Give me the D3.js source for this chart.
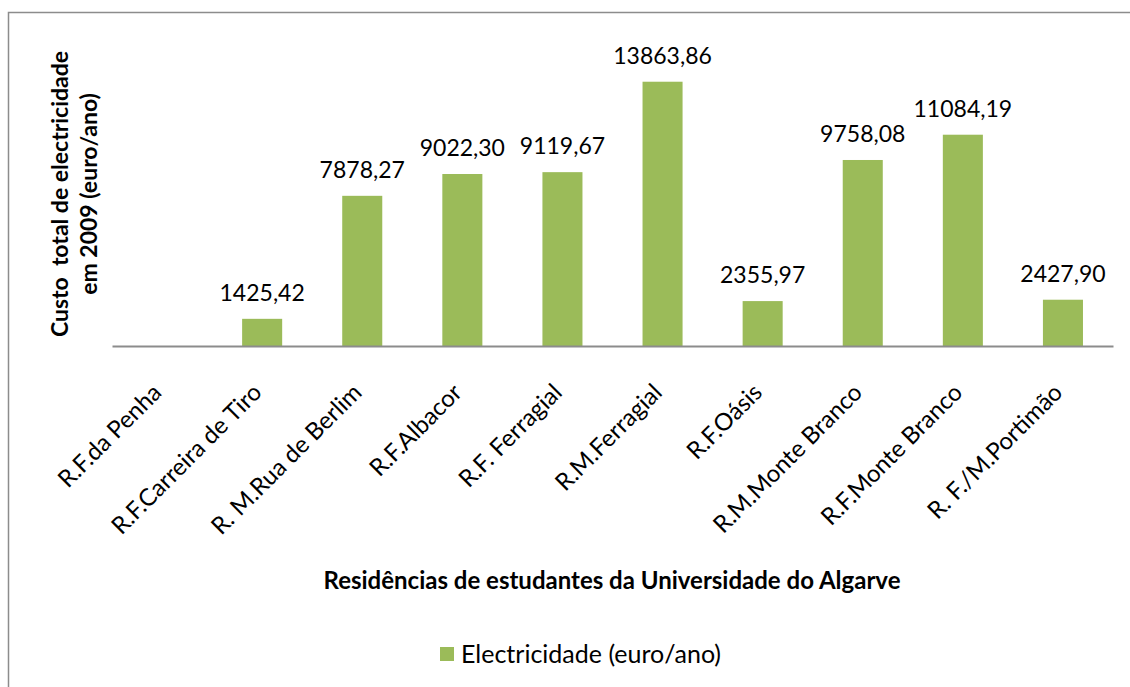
<!DOCTYPE html>
<html>
<head>
<meta charset="utf-8">
<script src="https://cdn.jsdelivr.net/npm/d3@7"></script>
<style>
    body { margin: 0; background: #fff; }
    text { font-family: Lato, "Open Sans", sans-serif; fill: #000; }
</style>
</head>
<body>
<script>

// SVG size
const w = 1130;
const h = 687;

// Chart data
const categories = [
    "R.F.da Penha",
    "R.F.Carreira de Tiro",
    "R. M.Rua de Berlim",
    "R.F.Albacor",
    "R.F. Ferragial",
    "R.M.Ferragial",
    "R.F.Oásis",
    "R.M.Monte Branco",
    "R.F.Monte Branco",
    "R. F./M.Portimão"
];
const values = [0, 1425.42, 7878.27, 9022.30, 9119.67, 13863.86, 2355.97, 9758.08, 11084.19, 2427.90];
const valueLabels = ["", "1425,42", "7878,27", "9022,30", "9119,67", "13863,86", "2355,97", "9758,08", "11084,19", "2427,90"];
const seriesName = "Electricidade (euro/ano)";
const yTitle = ["Custo  total de electricidade", "em 2009 (euro/ano)"];
const xTitle = "Residências de estudantes da Universidade do Algarve";

const data = categories.map((c, i) => ({ name: c, value: values[i], label: valueLabels[i] }));

const plotLeft = 112;
const plotRight = 1113;
const baseY = 346;

// Scales
const xScale = d3.scaleBand()
    .domain(categories)
    .range([plotLeft, plotRight])
    .paddingInner(0.6)
    .paddingOuter(0.3);

const yScale = d3.scaleLinear()
    .domain([0, 16000])
    .range([baseY, 41]);

// Create SVG
const svg = d3.select("body")
    .append("svg")
    .attr("width", w)
    .attr("height", h);

// Chart border
svg.append("rect")
    .attr("x", 8.5)
    .attr("y", 12.5)
    .attr("width", 1140)
    .attr("height", 700)
    .attr("fill", "none")
    .attr("stroke", "#8c8c8c")
    .attr("stroke-width", 1.5);

// Bars
svg.selectAll(".bar")
    .data(data)
    .enter()
    .append("rect")
    .attr("class", "bar")
    .attr("x", d => xScale(d.name))
    .attr("width", xScale.bandwidth())
    .attr("y", d => yScale(d.value))
    .attr("height", d => yScale(0) - yScale(d.value))
    .attr("fill", "#9bbb59");

// Value labels
svg.selectAll(".val")
    .data(data)
    .enter()
    .append("text")
    .attr("class", "val")
    .attr("x", d => xScale(d.name) + xScale.bandwidth() / 2)
    .attr("y", d => yScale(d.value) - 18)
    .attr("text-anchor", "middle")
    .style("font-size", "23px")
    .text(d => d.label);

// x-axis
const bottomAxis = d3.axisBottom(xScale).tickSize(0).tickSizeOuter(0).tickPadding(0);

const xAxis = svg.append("g")
    .attr("transform", `translate(0, ${baseY})`)
    .call(bottomAxis);

xAxis.select(".domain")
    .attr("stroke", "#8c8c8c")
    .attr("stroke-width", 2);

xAxis.selectAll(".tick text")
    .attr("text-anchor", "end")
    .attr("dy", null)
    .attr("y", 0)
    .attr("transform", "translate(1, 48) rotate(-45)")
    .style("font-size", "24px")
    .style("font-family", "Lato, sans-serif");

// x-axis title
svg.append("text")
    .attr("x", 612)
    .attr("y", 589)
    .attr("text-anchor", "middle")
    .style("font-size", "24px")
    .style("font-weight", "bold")
    .text(xTitle);

// y-axis title
svg.append("text")
    .attr("transform", "rotate(-90)")
    .attr("x", -194)
    .attr("y", 68)
    .attr("text-anchor", "middle")
    .style("font-size", "23px")
    .style("font-weight", "bold")
    .selectAll("tspan")
    .data(yTitle)
    .enter()
    .append("tspan")
    .attr("x", -194)
    .attr("dy", (d, i) => i === 0 ? 0 : 29)
    .style("white-space", "pre")
    .text(d => d);

// Legend
svg.append("rect")
    .attr("x", 440)
    .attr("y", 647)
    .attr("width", 14)
    .attr("height", 14)
    .attr("fill", "#9bbb59");

svg.append("text")
    .attr("x", 461)
    .attr("y", 663)
    .style("font-size", "25px")
    .text(seriesName);

</script>
</body>
</html>
